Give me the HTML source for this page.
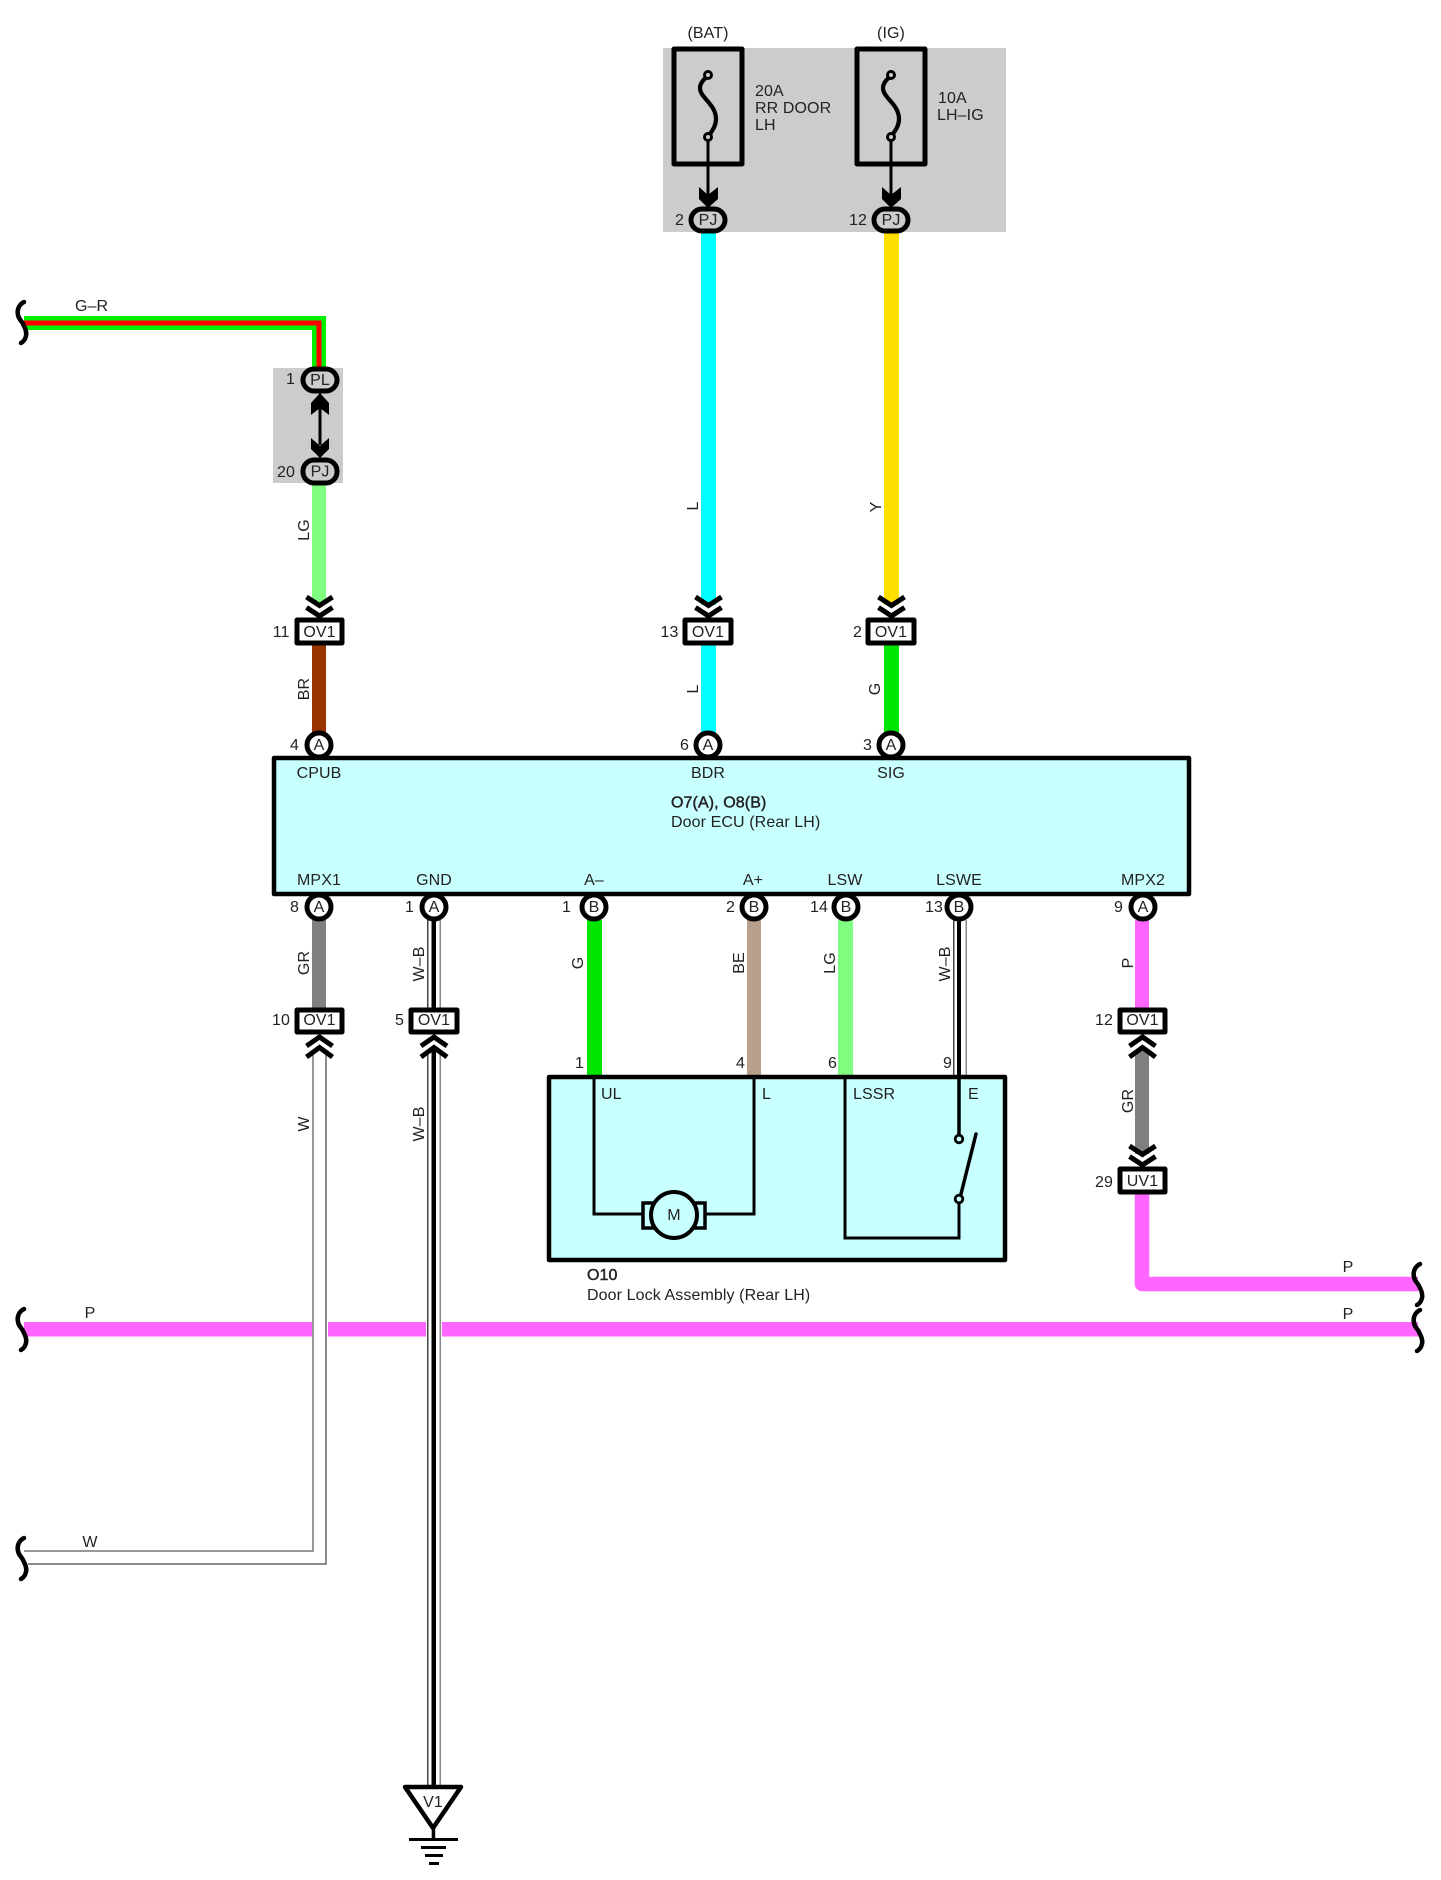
<!DOCTYPE html>
<html>
<head>
<meta charset="utf-8">
<style>
html,body{margin:0;padding:0;background:#fff}
svg{display:block}
text{font-family:"Liberation Sans",sans-serif;font-size:16px;fill:#222;letter-spacing:.1px}
.m{text-anchor:middle}
.e{text-anchor:end}
.b{stroke:#222;stroke-width:.45px}
</style>
</head>
<body>
<svg xmlns="http://www.w3.org/2000/svg" width="1441" height="1880" viewBox="0 0 1441 1880">
<defs>
<g id="cdown" fill="none" stroke="#000" stroke-width="5" stroke-linejoin="miter">
<polyline points="-13,-21 0,-12.5 13,-21"/>
<polyline points="-13,-10.5 0,-2 13,-10.5"/>
</g>
<g id="cup" fill="none" stroke="#000" stroke-width="5" stroke-linejoin="miter">
<polyline points="-13,12 0,3 13,12"/>
<polyline points="-13,23 0,13.5 13,23"/>
</g>
<path id="brace" d="M24 0 C18 3 17 9 18 13 C19 18 22 19 23 22 C25 26 27 30 26 34 C25 38 23 40 21 41" fill="none" stroke="#000" stroke-width="4.5" stroke-linecap="round"/>
<path id="fuse" d="M0 0 C-3 4 -8 7 -8 13 C-8 23 8 29 8 44 C8 52 3 57 0 62" fill="none" stroke="#000" stroke-width="4.2"/>
</defs>
<rect width="1441" height="1880" fill="#fff"/>

<!-- gray zones -->
<rect x="663" y="48" width="343" height="184" fill="#ccc"/>
<rect x="273" y="368" width="70" height="115" fill="#ccc"/>

<!-- fuses -->
<rect x="674" y="49" width="68" height="115" fill="none" stroke="#000" stroke-width="5" stroke-linejoin="round"/>
<rect x="857" y="49" width="68" height="115" fill="none" stroke="#000" stroke-width="5" stroke-linejoin="round"/>
<use href="#fuse" x="708" y="75"/>
<use href="#fuse" x="891" y="75"/>
<circle cx="708" cy="75" r="3.5" fill="#ccc" stroke="#000" stroke-width="3"/>
<circle cx="708" cy="137" r="3.5" fill="#ccc" stroke="#000" stroke-width="3"/>
<circle cx="891" cy="75" r="3.5" fill="#ccc" stroke="#000" stroke-width="3"/>
<circle cx="891" cy="137" r="3.5" fill="#ccc" stroke="#000" stroke-width="3"/>
<rect x="706.5" y="140" width="3" height="55" fill="#000"/>
<rect x="889.5" y="140" width="3" height="55" fill="#000"/>
<polygon points="699,187 708,195 718,187 718,199 708,208 699,199" fill="#000"/>
<polygon points="882,187 891,195 901,187 901,199 891,208 882,199" fill="#000"/>

<text class="m" x="708" y="38">(BAT)</text>
<text class="m" x="891" y="38">(IG)</text>
<text x="755" y="96">20A</text>
<text x="755" y="113">RR DOOR</text>
<text x="755" y="130">LH</text>
<text x="938" y="103">10A</text>
<text x="937" y="120">LH–IG</text>

<!-- wires top -->
<rect x="701" y="230" width="15" height="375" fill="#00ffff"/>
<rect x="884" y="230" width="15" height="375" fill="#ffdf00"/>
<rect x="701" y="644" width="15" height="90" fill="#00ffff"/>
<rect x="884" y="644" width="15" height="90" fill="#00e600"/>
<rect x="312" y="484" width="14" height="120" fill="#80ff80"/>
<rect x="312" y="644" width="14" height="90" fill="#993300"/>

<!-- G-R -->
<path d="M24 323 H319 V370" fill="none" stroke="#00f000" stroke-width="14"/>
<path d="M24 323 H319 V370" fill="none" stroke="#ff0000" stroke-width="5"/>
<use href="#brace" x="0" y="302"/>
<text x="75" y="311">G–R</text>

<!-- PL/PJ -->
<rect x="318.5" y="405" width="3" height="40" fill="#000"/>
<polygon points="320,393 329,403 329,415 320,408 311,415 311,403" fill="#000"/>
<polygon points="311,438 320,446 329,438 329,449 320,458 311,449" fill="#000"/>
<rect x="303" y="369" width="34" height="22" rx="11" fill="#ccc" stroke="#000" stroke-width="5"/>
<rect x="303" y="460" width="34" height="23" rx="11" fill="#ccc" stroke="#000" stroke-width="5"/>
<rect x="691" y="209" width="34" height="22" rx="11" fill="#ccc" stroke="#000" stroke-width="5"/>
<rect x="874" y="209" width="34" height="22" rx="11" fill="#ccc" stroke="#000" stroke-width="5"/>
<text class="m" x="320" y="385">PL</text>
<text class="m" x="320" y="476.500">PJ</text>
<text class="m" x="708" y="225">PJ</text>
<text class="m" x="891" y="225">PJ</text>
<text class="e" x="295" y="384">1</text>
<text class="e" x="295" y="477">20</text>
<text class="e" x="684" y="225">2</text>
<text class="e" x="867" y="225">12</text>

<!-- ECU -->
<rect x="274" y="758" width="915" height="136" fill="#c8ffff" stroke="#000" stroke-width="4.5" stroke-linejoin="round"/>
<text class="m" x="319" y="778">CPUB</text>
<text class="m" x="708" y="778">BDR</text>
<text class="m" x="891" y="778">SIG</text>
<text class="b" x="671" y="807.500">O7(A), O8(B)</text>
<text x="671" y="827">Door ECU (Rear LH)</text>
<text class="m" x="319" y="885">MPX1</text>
<text class="m" x="434" y="885">GND</text>
<text class="m" x="594" y="885">A–</text>
<text class="m" x="753" y="885">A+</text>
<text class="m" x="845" y="885">LSW</text>
<text class="m" x="959" y="885">LSWE</text>
<text class="m" x="1143" y="885">MPX2</text>

<!-- P main -->
<rect x="24" y="1322" width="288" height="14.5" fill="#ff66ff"/>
<rect x="328" y="1322" width="98" height="14.5" fill="#ff66ff"/>
<rect x="442" y="1322" width="976" height="14.5" fill="#ff66ff"/>
<path d="M1142 1190 V1284 H1418" fill="none" stroke="#ff66ff" stroke-width="14.500" stroke-linejoin="round"/>
<rect x="1135" y="920" width="14" height="90" fill="#ff66ff"/>
<rect x="1135" y="1050" width="14" height="104" fill="#808080"/>

<!-- lower wires -->
<rect x="312" y="920" width="14" height="90" fill="#808080"/>
<rect x="587" y="920" width="15" height="157" fill="#00e600"/>
<rect x="747" y="920" width="14" height="157" fill="#b8a08c"/>
<rect x="838" y="920" width="15" height="157" fill="#80ff80"/>

<!-- W wire -->
<path d="M313 1050 V1551 H24" fill="none" stroke="#777" stroke-width="1.5"/>
<path d="M326 1050 V1564 H28" fill="none" stroke="#666" stroke-width="1.5"/>

<!-- W-B GND -->
<g>
<rect x="427.5" y="920" width="13" height="90" fill="#fff"/>
<rect x="427" y="920" width="1.5" height="90" fill="#444"/>
<rect x="439.5" y="920" width="1.5" height="90" fill="#888"/>
<rect x="431.5" y="920" width="4.5" height="90" fill="#000"/>
<rect x="427" y="1050" width="1.5" height="737" fill="#444"/>
<rect x="439.5" y="1050" width="1.5" height="737" fill="#888"/>
<rect x="431.5" y="1050" width="4.5" height="737" fill="#000"/>
</g>
<!-- W-B LSWE -->
<rect x="953" y="920" width="1.5" height="156" fill="#444"/>
<rect x="965.5" y="920" width="1.5" height="156" fill="#888"/>
<rect x="957" y="920" width="4" height="156" fill="#000"/>

<!-- Door Lock -->
<rect x="549" y="1077" width="456" height="183" fill="#c8ffff" stroke="#000" stroke-width="4.5" stroke-linejoin="round"/>
<path d="M594 1077 V1214 H642 M754 1077 V1214 H706" fill="none" stroke="#000" stroke-width="3"/>
<rect x="643" y="1203" width="10" height="25" fill="#c8ffff" stroke="#000" stroke-width="3.5"/>
<rect x="695" y="1203" width="10" height="25" fill="#c8ffff" stroke="#000" stroke-width="3.5"/>
<circle cx="674" cy="1215" r="23" fill="#c8ffff" stroke="#000" stroke-width="4"/>
<text class="m" x="674" y="1220">M</text>
<path d="M959 1077 V1136" fill="none" stroke="#000" stroke-width="3.5"/>
<path d="M845 1077 V1238 H959 V1202" fill="none" stroke="#000" stroke-width="3"/>
<line x1="960" y1="1198" x2="976" y2="1134" stroke="#000" stroke-width="3.5" stroke-linecap="round"/>
<circle cx="959" cy="1139" r="3.8" fill="#c8ffff" stroke="#000" stroke-width="2.8"/>
<circle cx="959" cy="1199" r="3.8" fill="#c8ffff" stroke="#000" stroke-width="2.8"/>
<text x="601" y="1099">UL</text>
<text x="762" y="1099">L</text>
<text x="853" y="1099">LSSR</text>
<text x="968" y="1099">E</text>
<text class="e" x="584" y="1068">1</text>
<text class="e" x="745" y="1068">4</text>
<text class="e" x="837" y="1068">6</text>
<text class="e" x="952" y="1068">9</text>
<text class="b" x="587" y="1280">O10</text>
<text x="587" y="1300">Door Lock Assembly (Rear LH)</text>

<!-- circles top -->
<g fill="#fff" stroke="#000" stroke-width="5">
<circle cx="319" cy="745" r="12"/>
<circle cx="708" cy="745" r="12"/>
<circle cx="891" cy="745" r="12"/>
<circle cx="319" cy="907" r="12"/>
<circle cx="434" cy="907" r="12"/>
<circle cx="594" cy="907" r="12"/>
<circle cx="754" cy="907" r="12"/>
<circle cx="846" cy="907" r="12"/>
<circle cx="959" cy="907" r="12"/>
<circle cx="1143" cy="907" r="12"/>
</g>
<text class="m" x="319" y="750">A</text>
<text class="m" x="708" y="750">A</text>
<text class="m" x="891" y="750">A</text>
<text class="m" x="319" y="912">A</text>
<text class="m" x="434" y="912">A</text>
<text class="m" x="594" y="912">B</text>
<text class="m" x="754" y="912">B</text>
<text class="m" x="846" y="912">B</text>
<text class="m" x="959" y="912">B</text>
<text class="m" x="1143" y="912">A</text>
<text class="e" x="299" y="750">4</text>
<text class="e" x="689" y="750">6</text>
<text class="e" x="872" y="750">3</text>
<text class="e" x="299" y="912">8</text>
<text class="e" x="414" y="912">1</text>
<text class="e" x="571" y="912">1</text>
<text class="e" x="735" y="912">2</text>
<text class="e" x="828" y="912">14</text>
<text class="e" x="943" y="912">13</text>
<text class="e" x="1123" y="912">9</text>

<!-- boxes -->
<g fill="#fff" stroke="#000" stroke-width="5" stroke-linejoin="round">
<rect x="297" y="620" width="45" height="23"/>
<rect x="685" y="620" width="46" height="23"/>
<rect x="868" y="620" width="46" height="23"/>
<rect x="297" y="1010" width="45" height="22"/>
<rect x="411" y="1010" width="46" height="22"/>
<rect x="1120" y="1010" width="45" height="22"/>
<rect x="1120" y="1169" width="45" height="23"/>
</g>
<text class="m" x="319.500" y="637">OV1</text>
<text class="m" x="708" y="637">OV1</text>
<text class="m" x="891" y="637">OV1</text>
<text class="m" x="319.500" y="1025">OV1</text>
<text class="m" x="434" y="1025">OV1</text>
<text class="m" x="1142.500" y="1025">OV1</text>
<text class="m" x="1142.500" y="1186">UV1</text>
<text class="e" x="289.500" y="637">11</text>
<text class="e" x="678.500" y="637">13</text>
<text class="e" x="862" y="637">2</text>
<text class="e" x="290" y="1025">10</text>
<text class="e" x="404" y="1025">5</text>
<text class="e" x="1113" y="1025">12</text>
<text class="e" x="1113" y="1187">29</text>

<!-- chevrons -->
<use href="#cdown" x="319.500" y="618"/>
<use href="#cdown" x="708.500" y="618"/>
<use href="#cdown" x="891.500" y="618"/>
<use href="#cdown" x="1142.500" y="1167"/>
<use href="#cup" x="319.500" y="1034"/>
<use href="#cup" x="434" y="1034"/>
<use href="#cup" x="1142.500" y="1034"/>

<!-- rotated labels -->
<text class="m" transform="translate(309,530) rotate(-90)">LG</text>
<text class="m" transform="translate(309,689) rotate(-90)">BR</text>
<text class="m" transform="translate(698,506) rotate(-90)">L</text>
<text class="m" transform="translate(698,689) rotate(-90)">L</text>
<text class="m" transform="translate(881,507) rotate(-90)">Y</text>
<text class="m" transform="translate(880,689) rotate(-90)">G</text>
<text class="m" transform="translate(309,963) rotate(-90)">GR</text>
<text class="m" transform="translate(424,964) rotate(-90)">W–B</text>
<text class="m" transform="translate(583,963) rotate(-90)">G</text>
<text class="m" transform="translate(744,963) rotate(-90)">BE</text>
<text class="m" transform="translate(835,963) rotate(-90)">LG</text>
<text class="m" transform="translate(950,964) rotate(-90)">W–B</text>
<text class="m" transform="translate(1133,963) rotate(-90)">P</text>
<text class="m" transform="translate(1133,1101) rotate(-90)">GR</text>
<text class="m" transform="translate(309,1124) rotate(-90)">W</text>
<text class="m" transform="translate(424,1124) rotate(-90)">W–B</text>

<!-- labels P W -->
<text class="m" x="90" y="1318">P</text>
<text class="m" x="90" y="1547">W</text>
<text class="m" x="1348" y="1272">P</text>
<text class="m" x="1348" y="1319">P</text>

<!-- braces -->
<use href="#brace" x="0" y="1309"/>
<use href="#brace" x="0" y="1538"/>
<use href="#brace" x="1396" y="1264"/>
<use href="#brace" x="1396" y="1310"/>

<!-- ground -->
<polygon points="405,1787 461,1787 433,1828" fill="#fff" stroke="#000" stroke-width="4.5" stroke-linejoin="round"/>
<text class="m" x="433" y="1807">V1</text>
<rect x="431.700" y="1828" width="3.5" height="12" fill="#000"/>
<rect x="409" y="1838" width="49" height="3" fill="#000"/>
<rect x="421" y="1846" width="25" height="3" fill="#000"/>
<rect x="425" y="1854" width="18" height="3" fill="#000"/>
<rect x="429" y="1862" width="10" height="3" fill="#000"/>
</svg>
</body>
</html>
